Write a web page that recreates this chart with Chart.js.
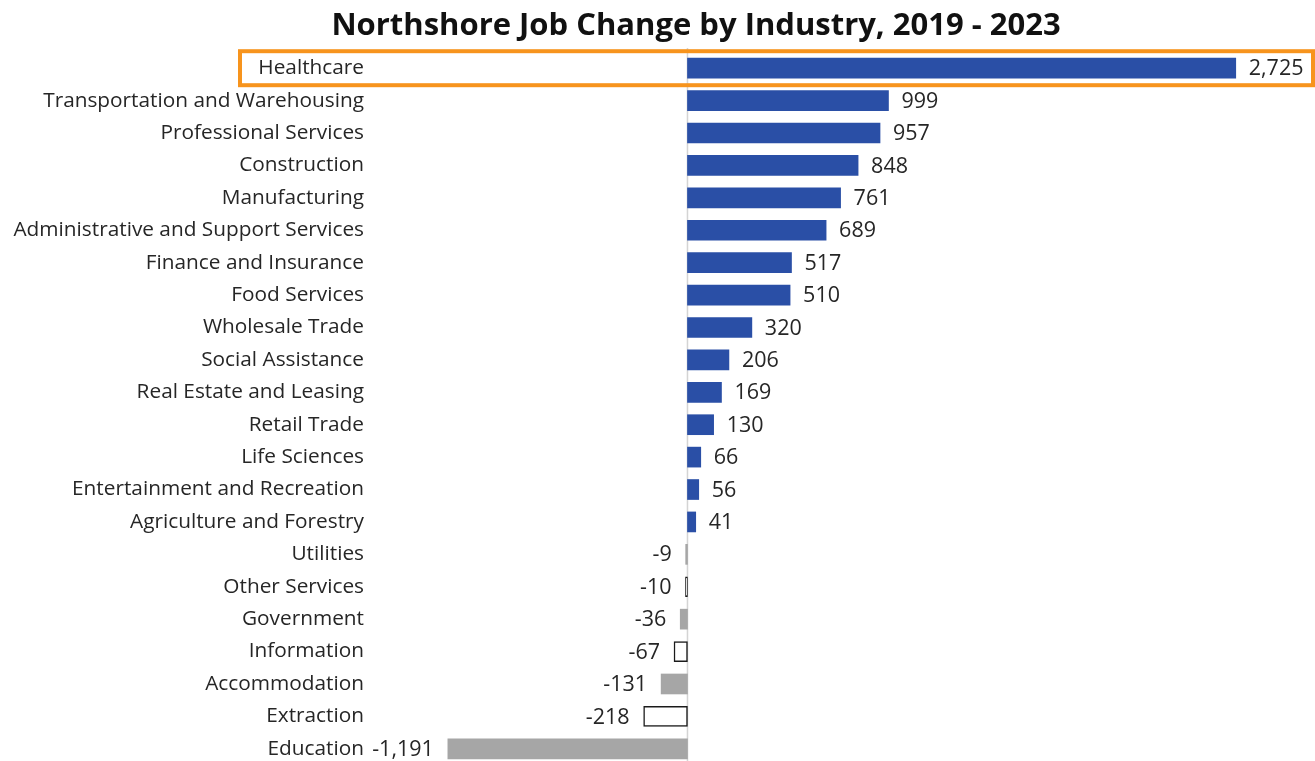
<!DOCTYPE html>
<html>
<head>
<meta charset="utf-8">
<script src="https://cdn.jsdelivr.net/npm/chart.js@4/dist/chart.umd.min.js"></script>
<style>
html,body{margin:0;padding:0;background:#fff;overflow:hidden;}
</style>
</head>
<body>
<canvas id="c" width="1315" height="800"></canvas>
<script>
const titleText = 'Northshore Job Change by Industry, 2019 - 2023';
const industries = ['Healthcare','Transportation and Warehousing','Professional Services','Construction','Manufacturing','Administrative and Support Services','Finance and Insurance','Food Services','Wholesale Trade','Social Assistance','Real Estate and Leasing','Retail Trade','Life Sciences','Entertainment and Recreation','Agriculture and Forestry','Utilities','Other Services','Government','Information','Accommodation','Extraction','Education'];
const jobChange = [2725,999,957,848,761,689,517,510,320,206,169,130,66,56,41,-9,-10,-36,-67,-131,-218,-1191];
const outlinedIndustries = ['Other Services','Information','Extraction'];
const highlighted = 'Healthcare';

const BLUE = '#2A4FA6', GRAY = '#A6A6A6', TEXT = '#262626';
const FONT = '"Open Sans", sans-serif';
const FS = 20.8;
const VFS = 21.5;

const fills = industries.map((n,i)=> jobChange[i] >= 0 ? BLUE : (outlinedIndustries.includes(n) ? '#ffffff' : GRAY));
const borders = industries.map((n,i)=> outlinedIndustries.includes(n) ? '#1a1a1a' : 'rgba(0,0,0,0)');
const borderW = industries.map((n)=> outlinedIndustries.includes(n) ? 1.5 : 0);

const fmt = v => v.toLocaleString('en-US');

const extras = {
  id:'extras',
  beforeDatasetsDraw(chart){
    const {ctx, chartArea, scales:{x}} = chart;
    const x0 = x.getPixelForValue(0);
    ctx.save();
    ctx.strokeStyle = '#d4d4d4';
    ctx.lineWidth = 1.5;
    ctx.beginPath();
    ctx.moveTo(x0, chartArea.top - 4);
    ctx.lineTo(x0, chartArea.bottom);
    ctx.stroke();
    ctx.restore();
  },
  afterDatasetsDraw(chart){
    const {ctx, scales:{x,y}} = chart;
    const meta = chart.getDatasetMeta(0);
    ctx.save();
    ctx.font = VFS + 'px ' + FONT;
    ctx.fillStyle = TEXT;
    ctx.textBaseline = 'middle';
    meta.data.forEach((bar,i)=>{
      const v = jobChange[i];
      if (v >= 0){ ctx.textAlign='left'; ctx.fillText(fmt(v), bar.x + 13, bar.y + 1); }
      else { ctx.textAlign='right'; ctx.fillText(fmt(v), bar.x - 14, bar.y + 1); }
    });
    const hi = industries.indexOf(highlighted);
    const cy = y.getPixelForValue(hi);
    ctx.strokeStyle = '#F7941D';
    ctx.lineWidth = 4;
    ctx.strokeRect(240, cy - 17, 1313 - 240, 34);
    ctx.font = 'bold 31px ' + FONT;
    ctx.fillStyle = '#111';
    ctx.textAlign = 'center';
    ctx.fillText(titleText, 696, 26);
    ctx.restore();
  }
};

new Chart(document.getElementById('c'), {
  type:'bar',
  data:{
    labels: industries,
    datasets:[{
      data: jobChange,
      backgroundColor: fills,
      borderColor: borders,
      borderWidth: borderW,
      borderSkipped: false,
      barThickness: 20
    }]
  },
  options:{
    indexAxis:'y',
    responsive:false,
    animation:false,
    layout:{padding:{top:52,bottom:35,left:0,right:5}},
    plugins:{legend:{display:false},title:{display:false},tooltip:{enabled:false}},
    scales:{
      x:{display:false,min:-1568,max:3094},
      y:{
        grid:{display:false,drawTicks:false},
        border:{display:false},
        ticks:{color:TEXT,font:{family:FONT,size:FS},padding:8,autoSkip:false},
        afterFit(s){ s.width = 372; }
      }
    }
  },
  plugins:[extras]
});
</script>
</body>
</html>
